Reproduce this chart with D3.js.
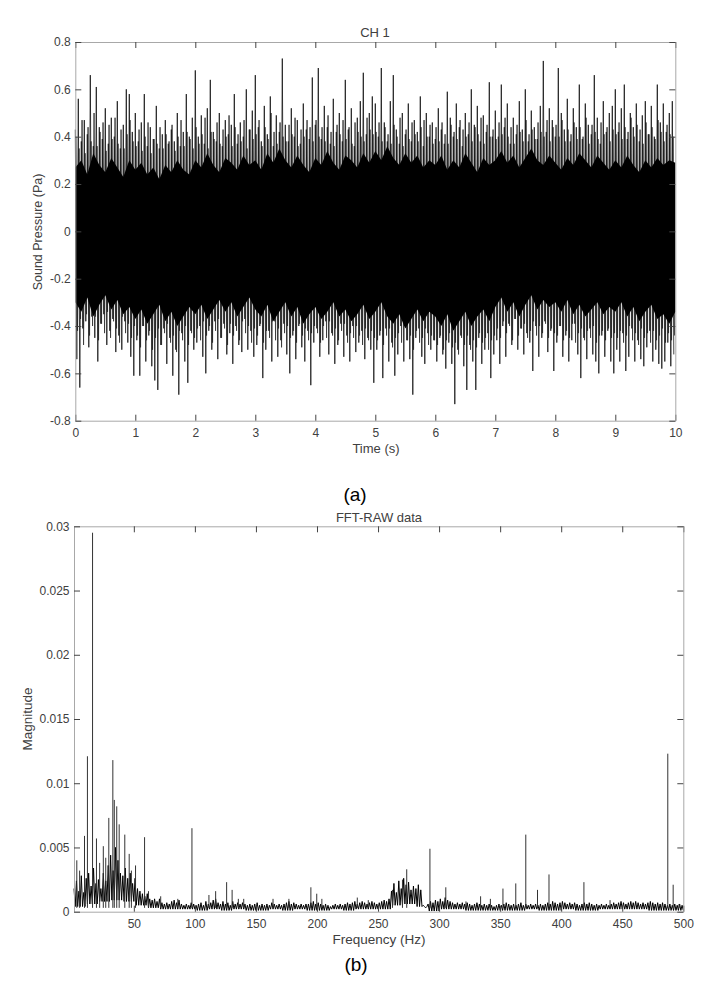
<!DOCTYPE html>
<html>
<head>
<meta charset="utf-8">
<script src="https://cdn.jsdelivr.net/npm/d3@7"></script>
<style>
  body { margin: 0; background: #fff; }
  text { font-family: "Liberation Sans", Arial, sans-serif; }
</style>
</head>
<body>
<script>
// ---- (a) CH 1 time signal ----
// upper / lower swing of the trace in each 0.05 s bin (Pa)
const binStep = 0.05
const swingHi = [
  .43,.56,.38,.47,.41,.66,.36,.61,.44,.39,.52,.37,.48,.4,.55,.35,.45,.6,.58,.42,
  .5,.38,.46,.58,.36,.44,.39,.53,.35,.41,.47,.37,.43,.38,.5,.36,.42,.58,.4,.48,
  .68,.4,.49,.37,.52,.64,.42,.38,.5,.36,.47,.41,.45,.58,.37,.46,.4,.6,.43,.51,
  .66,.44,.38,.53,.41,.57,.36,.49,.42,.73,.45,.38,.52,.4,.47,.37,.54,.43,.39,.65,
  .45,.69,.39,.53,.44,.37,.56,.42,.5,.38,.64,.43,.52,.36,.48,.55,.67,.41,.5,.57,
  .54,.4,.69,.46,.38,.55,.66,.43,.37,.5,.41,.54,.38,.47,.42,.57,.36,.5,.4,.46,
  .39,.52,.43,.37,.59,.48,.4,.54,.44,.36,.5,.41,.6,.45,.53,.38,.49,.42,.63,.4,
  .51,.4,.62,.44,.54,.37,.48,.41,.55,.43,.6,.38,.51,.44,.39,.53,.72,.42,.52,.47,
  .4,.69,.5,.43,.56,.38,.52,.44,.62,.39,.54,.45,.41,.66,.48,.37,.55,.42,.5,.53,
  .6,.42,.52,.62,.39,.5,.44,.54,.38,.49,.55,.41,.53,.4,.62,.46,.54,.42,.5,.55
]
const swingLo = [
  -.54,-.66,-.41,-.38,-.49,-.36,-.45,-.55,-.39,-.35,-.48,-.42,-.37,-.51,-.44,-.5,-.38,-.47,-.53,-.61,
  -.46,-.61,-.4,-.55,-.44,-.57,-.63,-.67,-.48,-.41,-.56,-.45,-.61,-.5,-.69,-.43,-.55,-.64,-.42,-.5,
  -.47,-.4,-.53,-.6,-.42,-.5,-.38,-.54,-.45,-.39,-.52,-.43,-.56,-.4,-.48,-.51,-.37,-.5,-.42,-.53,
  -.48,-.4,-.62,-.5,-.42,-.55,-.38,-.53,-.46,-.39,-.52,-.6,-.44,-.54,-.4,-.49,-.55,-.42,-.65,-.47,
  -.41,-.53,-.46,-.38,-.52,-.43,-.56,-.48,-.39,-.53,-.44,-.55,-.4,-.51,-.47,-.42,-.54,-.45,-.5,-.64,
  -.5,-.44,-.62,-.41,-.55,-.47,-.61,-.52,-.4,-.55,-.46,-.54,-.69,-.45,-.41,-.53,-.56,-.43,-.5,-.46,
  -.55,-.45,-.52,-.58,-.47,-.56,-.73,-.5,-.44,-.57,-.67,-.48,-.55,-.67,-.45,-.56,-.5,-.43,-.62,-.52,
  -.46,-.56,-.4,-.53,-.39,-.48,-.37,-.5,-.41,-.52,-.43,-.47,-.59,-.4,-.53,-.45,-.38,-.51,-.42,-.59,
  -.47,-.4,-.53,-.44,-.55,-.46,-.39,-.52,-.62,-.45,-.54,-.41,-.52,-.55,-.6,-.44,-.53,-.42,-.55,-.6,
  -.5,-.55,-.43,-.59,-.53,-.41,-.55,-.46,-.54,-.57,-.49,-.42,-.55,-.5,-.56,-.58,-.55,-.47,-.57,-.52
]
// the smaller in-between swings of each bin (Pa)
const swingHi2 = [
  .4,.35,.47,.33,.44,.38,.5,.36,.42,.46,.34,.45,.39,.48,.37,.43,.35,.41,.47,.38,
  .36,.43,.34,.4,.46,.33,.39,.37,.44,.35,.41,.38,.45,.34,.4,.47,.36,.42,.39,.35,
  .44,.37,.41,.48,.35,.42,.39,.46,.37,.43,.4,.49,.36,.44,.41,.38,.47,.35,.43,.39,
  .41,.47,.36,.44,.39,.5,.42,.37,.46,.4,.38,.45,.41,.48,.36,.43,.4,.47,.44,.38,
  .47,.4,.44,.38,.49,.42,.36,.45,.41,.47,.39,.44,.37,.46,.42,.4,.38,.48,.43,.41,
  .42,.46,.38,.44,.41,.37,.45,.4,.48,.36,.43,.39,.46,.41,.38,.44,.47,.4,.45,.37,
  .44,.38,.46,.41,.37,.45,.42,.39,.47,.43,.4,.46,.38,.44,.41,.48,.37,.45,.4,.43,
  .39,.46,.41,.48,.4,.44,.37,.45,.42,.38,.47,.41,.43,.39,.46,.42,.4,.47,.38,.44,
  .45,.4,.47,.38,.43,.41,.46,.39,.44,.4,.48,.37,.45,.42,.39,.46,.41,.44,.38,.43,
  .41,.46,.39,.44,.42,.48,.4,.45,.43,.37,.46,.41,.44,.39,.47,.42,.38,.45,.41,.4
]
const swingLo2 = [
  -.42,-.37,-.48,-.35,-.44,-.4,-.36,-.46,-.39,-.43,-.34,-.45,-.38,-.41,-.47,-.36,-.43,-.39,-.45,-.4,
  -.44,-.49,-.4,-.46,-.42,-.5,-.45,-.41,-.48,-.43,-.39,-.47,-.44,-.51,-.42,-.46,-.4,-.48,-.43,-.45,
  -.41,-.46,-.38,-.44,-.4,-.47,-.42,-.37,-.45,-.41,-.48,-.39,-.44,-.42,-.46,-.38,-.43,-.4,-.47,-.41,
  -.44,-.39,-.47,-.42,-.45,-.38,-.46,-.41,-.49,-.43,-.4,-.45,-.42,-.47,-.39,-.44,-.41,-.46,-.43,-.4,
  -.43,-.47,-.4,-.45,-.38,-.44,-.41,-.46,-.42,-.39,-.47,-.43,-.45,-.4,-.44,-.48,-.41,-.46,-.42,-.45,
  -.46,-.42,-.48,-.44,-.41,-.49,-.45,-.43,-.47,-.4,-.46,-.44,-.5,-.42,-.47,-.45,-.41,-.48,-.44,-.46,
  -.48,-.44,-.5,-.46,-.43,-.49,-.47,-.52,-.45,-.48,-.44,-.5,-.46,-.49,-.43,-.47,-.45,-.5,-.46,-.44,
  -.41,-.45,-.38,-.43,-.4,-.46,-.37,-.44,-.41,-.39,-.45,-.42,-.38,-.44,-.4,-.43,-.39,-.45,-.41,-.43,
  -.44,-.4,-.46,-.42,-.45,-.39,-.47,-.43,-.41,-.46,-.42,-.45,-.4,-.47,-.44,-.42,-.46,-.41,-.45,-.43,
  -.45,-.42,-.47,-.44,-.4,-.46,-.43,-.48,-.41,-.45,-.43,-.47,-.42,-.46,-.44,-.41,-.47,-.43,-.46,-.44
]
// solid black core of the trace, every 0.1 s (Pa)
const coreStep = 0.1
const coreHi = [
  .27,.3,.24,.33,.28,.25,.31,.27,.23,.3,
  .26,.29,.24,.27,.22,.28,.25,.3,.26,.24,
  .3,.27,.33,.28,.25,.31,.29,.26,.32,.28,
  .3,.26,.33,.29,.35,.3,.27,.32,.28,.25,
  .31,.28,.34,.29,.26,.32,.3,.27,.33,.29,
  .34,.3,.36,.31,.28,.33,.29,.32,.27,.3,
  .28,.32,.26,.3,.27,.33,.29,.25,.31,.28,
  .3,.34,.29,.32,.27,.31,.35,.3,.28,.32,
  .29,.26,.31,.28,.33,.3,.27,.32,.29,.26,
  .3,.27,.32,.28,.25,.3,.27,.31,.28,.3,.29
]
const coreLo = [
  -.3,-.34,-.28,-.36,-.31,-.27,-.33,-.29,-.35,-.32,
  -.37,-.33,-.39,-.35,-.31,-.38,-.34,-.4,-.36,-.32,
  -.35,-.31,-.37,-.33,-.29,-.34,-.3,-.36,-.32,-.28,
  -.33,-.36,-.31,-.38,-.34,-.3,-.36,-.32,-.39,-.35,
  -.32,-.37,-.34,-.3,-.36,-.33,-.38,-.35,-.31,-.37,
  -.34,-.3,-.36,-.39,-.35,-.41,-.37,-.33,-.38,-.34,
  -.36,-.4,-.35,-.42,-.38,-.34,-.4,-.36,-.33,-.38,
  -.32,-.28,-.34,-.3,-.36,-.31,-.27,-.33,-.29,-.32,
  -.3,-.34,-.29,-.35,-.31,-.36,-.33,-.3,-.35,-.32,
  -.34,-.3,-.36,-.32,-.38,-.34,-.31,-.37,-.35,-.39,-.34
]
const timeTicks = [0,1,2,3,4,5,6,7,8,9,10]
const pressTicks = [-0.8,-0.6,-0.4,-0.2,0,0.2,0.4,0.6,0.8]

// ---- (b) FFT-RAW data ----
// noise floor top every 2 Hz (x 0.001), starting at 1 Hz
const fftStep = 2
const fftHi = [
  1.8,2.4,1.6,2.8,1.5,2.6,3.0,2.0,3.4,2.2,
  2.5,1.8,3.0,2.4,3.6,4.4,3.2,5.0,4.0,3.0,
  2.8,3.4,2.6,3.0,2.2,2.6,1.8,1.6,1.4,1.2,
  1.4,1.0,0.9,1.0,0.8,1.0,0.7,0.6,0.7,0.6,
  0.8,0.9,0.7,0.9,0.6,0.5,0.6,0.5,0.7,0.6,
  0.5,0.6,0.7,0.5,0.8,0.6,0.7,0.9,1.0,0.7,
  0.6,0.8,0.6,0.7,0.5,0.8,0.6,0.7,0.6,0.7,
  0.6,0.5,0.6,0.5,0.6,0.7,0.5,0.6,0.5,0.6,
  0.5,0.7,0.6,0.5,0.6,0.5,0.6,0.7,0.8,0.6,
  0.7,0.6,0.5,0.6,0.5,0.6,0.6,0.7,0.8,0.6,
  0.7,0.6,0.5,0.6,0.5,0.4,0.5,0.6,0.5,0.6,
  0.5,0.6,0.7,0.6,0.7,0.8,0.6,0.7,0.8,0.7,
  0.6,0.7,0.8,0.7,0.6,0.7,0.8,0.9,0.8,1.0,
  1.6,2.2,1.5,2.4,1.8,2.6,2.1,2.3,1.7,2.0,
  1.8,2.1,1.7,0.5,0.3,0.6,0.8,0.7,0.9,0.8,
  1.0,0.8,1.1,0.9,0.8,0.7,0.6,0.7,0.6,0.7,
  0.6,0.7,0.6,0.5,0.6,0.7,0.6,0.5,0.6,0.5,
  0.6,0.5,0.4,0.5,0.6,0.5,0.6,0.7,0.6,0.5,
  0.6,0.5,0.6,0.7,0.5,0.6,0.5,0.6,0.5,0.6,
  0.5,0.6,0.5,0.6,0.7,0.6,0.8,0.7,0.6,0.7,
  0.8,0.7,0.6,0.7,0.6,0.7,0.6,0.5,0.6,0.7,
  0.6,0.7,0.6,0.5,0.6,0.5,0.6,0.5,0.6,0.5,
  0.6,0.7,0.6,0.7,0.8,0.7,0.6,0.7,0.8,0.7,
  0.8,0.7,0.6,0.7,0.6,0.7,0.8,0.7,0.6,0.7,
  0.6,0.7,0.6,0.5,0.6,0.5,0.6,0.5,0.6,0.5
]
// noise floor bottom every 10 Hz (x 0.001)
const loStep = 10
const fftLo = [
  0.4,0.6,0.8,0.9,0.8,0.5, 0.3,0.2,0.2,0.2,
  0.1,0.2,0.1,0.2,0.1,0.1,0.2,0.1,0.2,0.1,
  0.1,0.2,0.1,0.2,0.2,0.2, 0.5,0.6,0.4, 0.05,
  0.2,0.2,0.1,0.1,0.1,0.1,0.1,0.2,0.1,0.1,
  0.2,0.1,0.1,0.2,0.2,0.2,0.2,0.1,0.1,0.1
]
// tonal peaks [Hz, magnitude x 0.001]
const fftPeaks = [
  [3.3,4.0],[5.6,3.2],[9.6,5.9],[12,12.1],[16.2,29.5],[19.4,5.7],[22,3.8],[25,5.1],
  [27,4.2],[29.5,7.3],[32.8,11.8],[34,8.7],[36,8.2],[38,6.8],[42.6,6.0],[46.2,4.5],
  [48,3.2],[51.4,3.6],[58.8,5.8],[62,1.6],[72,1.2],[86,1.0],[97.6,6.5],[111.5,1.3],
  [117,1.6],[126,2.3],[130.5,1.7],[135.6,1.0],[140,1.0],[164,1.0],[177,1.0],[195,1.9],
  [199.8,1.4],[204,1.0],[233,1.1],[242,0.9],[261.8,1.7],[270,2.5],[273.5,3.3],[292.5,4.9],
  [305.5,1.9],[322,0.8],[334,1.2],[342,1.0],[352.3,1.8],[362.8,2.2],[371,6.0],[380.6,1.7],
  [390,2.9],[418.6,2.3],[440,0.9],[487.3,12.3],[491.7,2.1],[496.5,0.6]
]
const freqTicks = [50,100,150,200,250,300,350,400,450,500]
const magTicks = [0,0.005,0.01,0.015,0.02,0.025,0.03]

const W = 721, H = 984
const svg = d3.select("body").append("svg").attr("width", W).attr("height", H)

// box with inward ticks on all four sides, MATLAB style
function frame(x, y, xt, yt, fmtX, fmtY) {
  const [x0, x1] = x.range(), [y0, y1] = y.range()
  const g = svg.append("g").attr("class", "frame")
  g.append("g").attr("transform", `translate(0,${y0})`)
    .call(d3.axisBottom(x).tickValues(xt).tickSize(-6).tickSizeOuter(0).tickPadding(7.5).tickFormat(fmtX))
  g.append("g").attr("transform", `translate(0,${y1})`)
    .call(d3.axisTop(x).tickValues(xt).tickSize(-6).tickSizeOuter(0).tickFormat(""))
  g.append("g").attr("transform", `translate(${x0},0)`)
    .call(d3.axisLeft(y).tickValues(yt).tickSize(-6).tickSizeOuter(0).tickPadding(4.5).tickFormat(fmtY))
  g.append("g").attr("transform", `translate(${x1},0)`)
    .call(d3.axisRight(y).tickValues(yt).tickSize(-6).tickSizeOuter(0).tickFormat(""))
  g.selectAll(".domain").attr("stroke", "#a8a8a8")
  g.selectAll(".tick line").attr("stroke", "#444")
  g.selectAll(".tick text").attr("fill", "#404040").style("font-size", "12px")
    .style("font-family", "'Liberation Sans', Arial, sans-serif")
  return g
}

// ---------- panel (a) ----------
const xa = d3.scaleLinear().domain([0, 10]).range([75.3, 675.3])
const ya = d3.scaleLinear().domain([-0.8, 0.8]).range([420.7, 42])
const lineA = d3.line().x(d => xa(d.t)).y(d => ya(d.p))

// in-between swings, a quarter bin later
const trace2 = []
swingHi2.forEach((v, i) => {
  trace2.push({ t: (i + 0.25) * binStep, p: v })
  trace2.push({ t: (i + 0.75) * binStep, p: swingLo2[i] })
})
svg.append("path").datum(trace2)
  .attr("fill", "none").attr("stroke", "#3a3a3a").attr("stroke-width", 0.9)
  .attr("d", lineA)

const trace = []
swingHi.forEach((v, i) => {
  trace.push({ t: i * binStep, p: v })
  trace.push({ t: (i + 0.5) * binStep, p: swingLo[i] })
})
svg.append("path").datum(trace)
  .attr("fill", "none").attr("stroke", "#111").attr("stroke-width", 0.8)
  .attr("d", lineA)

// the dense middle of the trace is solid black
const core = coreHi.map((v, i) => ({ t: i * coreStep, hi: v, lo: coreLo[i] }))
svg.append("path").datum(core)
  .attr("fill", "#000")
  .attr("d", d3.area().x(d => xa(d.t)).y0(d => ya(d.lo)).y1(d => ya(d.hi)))

frame(xa, ya, timeTicks, pressTicks, d => String(d), d => String(d))

svg.append("text").attr("x", 375).attr("y", 36.5).attr("text-anchor", "middle")
  .attr("fill", "#404040").style("font-size", "13px").text("CH 1")
svg.append("text").attr("x", 376).attr("y", 452.5).attr("text-anchor", "middle")
  .attr("fill", "#404040").style("font-size", "13px").text("Time (s)")
svg.append("text").attr("transform", "translate(42,232) rotate(-90)").attr("text-anchor", "middle")
  .attr("fill", "#404040").style("font-size", "12.5px").text("Sound Pressure (Pa)")
svg.append("text").attr("x", 355).attr("y", 501).attr("text-anchor", "middle")
  .attr("fill", "#000").style("font-size", "19px").text("(a)")

// ---------- panel (b) ----------
const xb = d3.scaleLinear().domain([1, 500]).range([74, 683.3])
const yb = d3.scaleLinear().domain([0, 0.03]).range([911.7, 526.3])

const spec = []
fftHi.forEach((v, i) => {
  const f = 1 + i * fftStep
  spec.push({ f: f, m: v / 1000 })
  spec.push({ f: f + fftStep / 2, m: fftLo[Math.floor((f - 1) / loStep)] / 1000 })
})
svg.append("path").datum(spec)
  .attr("fill", "none").attr("stroke", "#000").attr("stroke-width", 1)
  .attr("d", d3.line().x(d => xb(d.f)).y(d => yb(d.m)))

svg.append("g").selectAll("line").data(fftPeaks).enter().append("line")
  .attr("x1", d => xb(d[0])).attr("x2", d => xb(d[0]))
  .attr("y1", yb(0.0003)).attr("y2", d => yb(d[1] / 1000))
  .attr("stroke", "#333").attr("stroke-width", 1)

frame(xb, yb, freqTicks, magTicks, d => String(d), d => String(d))

svg.append("text").attr("x", 379).attr("y", 522).attr("text-anchor", "middle")
  .attr("fill", "#404040").style("font-size", "13px").text("FFT-RAW data")
svg.append("text").attr("x", 379).attr("y", 944).attr("text-anchor", "middle")
  .attr("fill", "#404040").style("font-size", "13.5px").text("Frequency (Hz)")
svg.append("text").attr("transform", "translate(32,719) rotate(-90)").attr("text-anchor", "middle")
  .attr("fill", "#404040").style("font-size", "13.5px").text("Magnitude")
svg.append("text").attr("x", 356).attr("y", 971).attr("text-anchor", "middle")
  .attr("fill", "#000").style("font-size", "19px").text("(b)")
</script>
</body>
</html>
